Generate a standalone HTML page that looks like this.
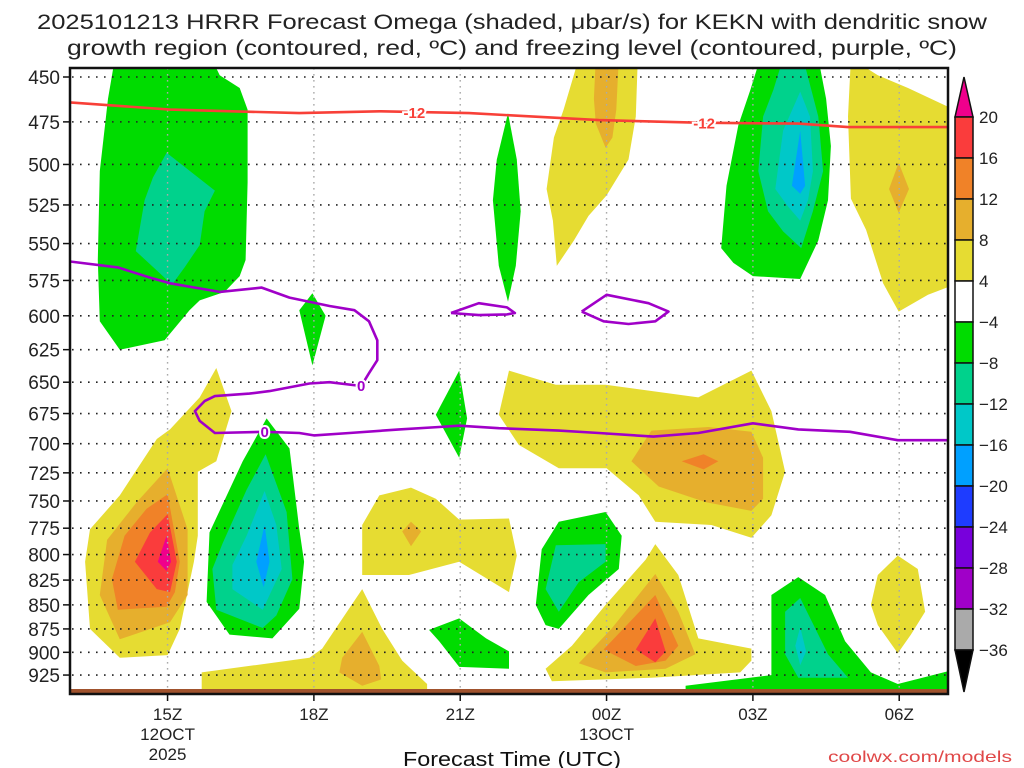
<!DOCTYPE html>
<html><head><meta charset="utf-8"><title>HRRR Omega KEKN</title>
<style>
html,body{margin:0;padding:0;background:#fff;}
svg{display:block;font-family:"Liberation Sans",sans-serif;}
</style></head>
<body>
<svg id="chart" width="1024" height="768" viewBox="0 0 1024 768" xmlns="http://www.w3.org/2000/svg">
<defs><clipPath id="plotclip"><rect x="70" y="68" width="878" height="626"/></clipPath></defs>
<g fill="#222" font-size="21">
<text x="512" y="29" text-anchor="middle" textLength="950" lengthAdjust="spacingAndGlyphs">2025101213 HRRR Forecast Omega (shaded, μbar/s) for KEKN with dendritic snow</text>
<text x="512" y="55" text-anchor="middle" textLength="890" lengthAdjust="spacingAndGlyphs">growth region (contoured, red, ºC) and freezing level (contoured, purple, ºC)</text>
</g>
<g id="shading" clip-path="url(#plotclip)"></g>
<g id="grid"></g>
<g id="contours" clip-path="url(#plotclip)"></g>
<g id="axes"></g>
<g id="colorbar"></g>
<text x="512" y="766" text-anchor="middle" font-size="20" fill="#111" textLength="218" lengthAdjust="spacingAndGlyphs">Forecast Time (UTC)</text>
<text x="1012" y="762" text-anchor="end" font-size="16" fill="#e04848" textLength="184" lengthAdjust="spacingAndGlyphs">coolwx.com/models</text>
</svg>
<script>
// ---- data (hour since 00Z Oct 12, pressure hPa) ----
const pressureTicks = [450,475,500,525,550,575,600,625,650,675,700,725,750,775,800,825,850,875,900,925];
const timeTicks = [15,18,21,24,27,30];
const timeTickLabels = ["15Z","18Z","21Z","00Z","03Z","06Z"];
const dateLabels = [[15,"12OCT","2025"],[24,"13OCT",""]];
const colorbarLevels = ["20","16","12","8","4","\u22124","\u22128","\u221212","\u221216","\u221220","\u221224","\u221228","\u221232","\u221236"];

const greenUL = [[13.92,440],[15.9,440],[16.07,449],[16.48,456],[16.64,468],[16.64,511],[16.6,561],[16.48,572],[16.17,583],[15.66,589],[15.45,596],[14.94,618],[14.02,625],[13.61,604],[13.57,561],[13.61,504],[13.78,462]];
const tealUL = [[14.98,493],[15.97,516],[15.76,529],[15.66,551],[15.35,566],[15.09,578],[14.84,570],[14.35,555],[14.53,522],[14.7,508]];
const green18 = [[17.97,584],[18.24,600],[17.97,637],[17.7,596]];
const green22lens = [[21.98,470],[22.16,497],[22.24,529],[22.14,565],[21.98,590],[21.79,565],[21.67,522],[21.75,497]];
const yellowTopMid = [[23.43,440],[24.64,440],[24.6,472],[24.45,497],[24.0,519],[23.63,532],[23.33,548],[22.98,565],[22.9,535],[22.77,515],[22.92,484],[23.12,468]];
const orangeTopMid = [[23.78,440],[24.25,440],[24.2,468],[24.12,484],[23.98,490],[23.78,476],[23.74,462]];
const green03 = [[27.15,440],[28.34,440],[28.5,462],[28.6,489],[28.54,522],[28.34,548],[27.97,574],[27.0,572],[26.6,563],[26.35,553],[26.46,513],[26.7,477],[26.95,457]];
const teal03 = [[27.62,440],[28.03,440],[28.34,472],[28.44,504],[28.23,529],[27.99,553],[27.62,542],[27.31,529],[27.11,504],[27.21,472],[27.42,457]];
const cyan03 = [[27.97,458],[28.17,472],[28.23,504],[28.13,522],[27.97,535],[27.72,526],[27.46,515],[27.62,480]];
const blue03 = [[27.97,480],[28.07,513],[27.97,518],[27.8,513]];
const yellowUR = [[29.01,440],[29.56,449],[30.18,456],[31.2,469],[31.2,577],[30.59,585],[29.99,597],[29.67,577],[29.32,541],[29.01,521],[28.95,472]];
const orangeUR = [[29.99,499],[30.2,515],[29.99,530],[29.79,515]];
const yellowLL = [[16.0,639],[16.31,673],[16.0,715],[15.62,724],[15.62,782],[15.54,807],[15.25,875],[15.0,903],[14.02,906],[13.41,875],[13.31,807],[13.41,776],[14.02,745],[14.78,696],[15.05,688],[15.66,662]];
const orangeLL = [[15.0,721],[15.41,776],[15.41,840],[15.05,868],[14.02,886],[13.61,840],[13.76,786],[14.37,751]];
const orange2LL = [[15.0,744],[15.25,807],[15.15,837],[14.98,852],[13.98,855],[13.86,824],[14.12,782],[14.57,757]];
const redLL = [[15.0,762],[15.19,807],[15.05,837],[14.78,834],[14.33,807],[14.64,779]];
const magentaLL = [[14.98,782],[15.07,807],[14.98,816],[14.8,807]];
const green17 = [[17.03,679],[17.5,704],[17.7,776],[17.8,807],[17.7,854],[17.15,885],[16.27,881],[15.8,847],[15.86,779],[16.54,715]];
const teal17 = [[17.01,709],[17.44,760],[17.56,824],[17.23,861],[16.95,874],[16.0,855],[15.92,814],[16.13,789],[16.62,740]];
const cyan17 = [[16.99,741],[17.23,772],[17.34,814],[16.95,855],[16.33,834],[16.33,810],[16.62,782]];
const blue17 = [[16.99,772],[17.09,807],[16.97,832],[16.82,807]];
const yellow20 = [[18.99,820],[18.99,772],[19.34,745],[19.99,738],[20.5,748],[20.98,767],[22.0,766],[22.16,801],[22.0,837],[20.98,807],[19.95,820]];
const orange20 = [[19.99,769],[20.2,778],[19.99,792],[19.81,778]];
const yellowBot = [[15.7,922],[17.91,906],[18.17,896],[18.99,834],[19.4,875],[19.81,909],[20.32,935],[20.32,945],[15.7,945]];
const orangeBot = [[18.99,878],[19.34,915],[19.38,930],[18.99,937],[18.52,922],[18.58,906]];
const green21bot = [[20.36,876],[20.98,864],[21.53,885],[22.0,899],[22.0,918],[20.98,916],[20.57,888]];
const green21lens = [[20.98,641],[21.14,679],[20.98,712],[20.5,676]];
const yellowMid = [[22.0,641],[22.96,652],[23.98,652],[25.88,662],[26.97,641],[27.38,673],[27.66,724],[27.38,763],[26.97,784],[26.15,772],[25.0,769],[24.66,745],[24.0,721],[23.02,721],[22.2,701],[21.79,676]];
const orangeMid = [[24.51,715],[24.92,689],[26.09,686],[26.97,690],[27.21,712],[27.21,748],[26.97,759],[26.03,751],[25.07,737]];
const orange2Mid = [[25.54,715],[25.99,709],[26.29,715],[25.99,722]];
const green23 = [[22.55,850],[22.67,795],[23.02,769],[23.98,760],[24.31,782],[24.25,814],[23.63,840],[23.02,875],[22.75,871]];
const teal23 = [[22.75,834],[22.96,791],[23.98,790],[23.98,807],[23.43,827],[23.02,857]];
const yellow01 = [[25.0,790],[25.47,820],[25.88,885],[26.97,896],[26.97,909],[26.74,922],[24.92,928],[22.88,932],[22.75,918],[23.29,893],[23.98,850],[24.8,805]];
const orange01 = [[25.0,819],[25.47,857],[25.82,902],[25.21,918],[23.98,922],[23.43,912],[24.1,875]];
const orange2_01 = [[25.0,840],[25.47,893],[25.21,909],[24.6,915],[23.94,897]];
const red01 = [[25.0,864],[25.21,899],[25.0,911],[24.6,897]];
const greenBR = [[25.62,937],[27.38,925],[27.38,840],[27.93,822],[28.48,840],[28.89,888],[29.42,922],[29.97,935],[31.2,918],[31.2,945],[25.62,945]];
const tealBR = [[27.66,857],[27.97,843],[28.54,902],[28.95,928],[27.93,928],[27.66,902]];
const cyanBR = [[27.97,873],[28.09,899],[27.97,914],[27.87,893]];
const yellowR = [[29.97,801],[30.38,814],[30.53,857],[30.24,881],[29.97,901],[29.56,871],[29.42,850],[29.56,820]];

const freezingLevel = [[13.0,562],[13.98,566],[14.64,573],[15.05,577],[16.07,583],[16.93,580],[17.5,587],[18.32,593],[18.83,596],[19.13,604],[19.3,618],[19.3,633],[19.13,643],[18.97,653],[18.32,650],[17.91,651],[17.09,657],[16.68,659],[15.97,661],[15.76,665],[15.56,673],[15.66,681],[15.97,691],[16.99,690],[17.7,691],[18.0,693],[18.73,691],[19.75,688],[20.57,686],[20.98,685],[21.79,687],[23.02,689],[23.84,691],[24.96,694],[25.88,691],[27.0,683],[27.93,688],[28.99,690],[29.97,697],[31.0,697]];
const freezingLoop1 = [[20.81,598],[21.38,591],[21.96,594],[22.12,598],[21.96,599],[21.38,599.5],[20.81,598]];
const freezingLoop2 = [[23.49,597],[24.0,585],[24.86,591],[25.27,597],[25.0,604],[24.45,606],[23.94,604],[23.49,597]];
const dgzTop = [[13.0,464],[15.05,468],[17.7,470],[19.34,469],[21.18,470],[23.84,474],[25.88,475.5],[27.93,476],[28.95,478],[31.0,478]];
const freezingLabels = [[18.97,653],[16.99,690]];
const dgzLabels = [[20.06,470],[26.0,476]];

// ---- axes ----
const X0=70, X1=948, H0=13, H1=31;
function xOf(h){ return X0 + (h-H0)*(X1-X0)/(H1-H0); }
function yOf(p){ return 77 + 830*Math.log(p/450); }
const NS="http://www.w3.org/2000/svg";
function mk(tag, attrs, parent){ const e=document.createElementNS(NS,tag); for(const k in attrs) e.setAttribute(k,attrs[k]); parent.appendChild(e); return e; }
function pts(arr){ return arr.map(d=>xOf(d[0]).toFixed(1)+","+yOf(d[1]).toFixed(1)).join(" "); }

const C={yel:"#e6dc32",org1:"#e6af2d",org2:"#f08228",red:"#fa3c3c",mag:"#f0008c",grn:"#00dc00",teal:"#00d28c",cyan:"#00c8c8",blue:"#00a0ff"};
const layers = [
 [greenUL,"grn","shade-green-upper-left"],[tealUL,"teal","shade-teal-upper-left"],
 [green18,"grn","shade-green-18z"],[green22lens,"grn","shade-green-22z-upper"],
 [yellowTopMid,"yel","shade-yellow-upper-mid"],[orangeTopMid,"org1","shade-orange-upper-mid"],
 [green03,"grn","shade-green-03z"],[teal03,"teal","shade-teal-03z"],[cyan03,"cyan","shade-cyan-03z"],[blue03,"blue","shade-blue-03z"],
 [yellowUR,"yel","shade-yellow-upper-right"],[orangeUR,"org1","shade-orange-upper-right"],
 [yellowLL,"yel","shade-yellow-lower-left"],[orangeLL,"org1","shade-orange-lower-left"],[orange2LL,"org2","shade-orange2-lower-left"],[redLL,"red","shade-red-lower-left"],[magentaLL,"mag","shade-magenta-lower-left"],
 [green17,"grn","shade-green-17z"],[teal17,"teal","shade-teal-17z"],[cyan17,"cyan","shade-cyan-17z"],[blue17,"blue","shade-blue-17z"],
 [yellow20,"yel","shade-yellow-20z"],[orange20,"org1","shade-orange-20z"],
 [yellowBot,"yel","shade-yellow-bottom"],[orangeBot,"org1","shade-orange-bottom"],
 [green21bot,"grn","shade-green-21z-low"],[green21lens,"grn","shade-green-21z-mid"],
 [yellowMid,"yel","shade-yellow-mid"],[orangeMid,"org1","shade-orange-mid"],[orange2Mid,"org2","shade-orange2-mid"],
 [green23,"grn","shade-green-23z"],[teal23,"teal","shade-teal-23z"],
 [yellow01,"yel","shade-yellow-01z"],[orange01,"org1","shade-orange-01z"],[orange2_01,"org2","shade-orange2-01z"],[red01,"red","shade-red-01z"],
 [greenBR,"grn","shade-green-bottom-right"],[tealBR,"teal","shade-teal-bottom-right"],[cyanBR,"cyan","shade-cyan-bottom-right"],
 [yellowR,"yel","shade-yellow-06z"]
];
const shading=document.getElementById("shading");
layers.forEach(L=>{
  const el=mk("polygon",{points:pts(L[0]),fill:C[L[1]]},shading);
  
  
});
const ground=mk("rect",{x:70,y:689,width:878,height:5,fill:"#a0522d"},shading);



// grid
const grid=document.getElementById("grid");
pressureTicks.forEach(p=>{
  const y=yOf(p);
  const l=mk("line",{x1:72,x2:948,y1:y,y2:y,stroke:"#222","stroke-width":1.6,"stroke-dasharray":"1.6 6.4"},grid);
  
  
});
timeTicks.forEach(h=>{
  const x=xOf(h);
  const l=mk("line",{x1:x,x2:x,y1:68,y2:689,stroke:"#aaa","stroke-width":1.4,"stroke-dasharray":"1.6 4.4"},grid);
  
  
});

// contours
const cg=document.getElementById("contours");
function line(arr,color,name){
  const e=mk("polyline",{points:pts(arr),fill:"none",stroke:color,"stroke-width":2.6,"stroke-linejoin":"round"},cg);
  
  
}
line(dgzTop,"#f84038","dgz-minus12-contour");
line(freezingLevel,"#a000c8","freezing-level-contour");
line(freezingLoop1,"#a000c8","freezing-level-loop-21z");
line(freezingLoop2,"#a000c8","freezing-level-loop-00z");
function clabel(d,txt,color,name){
  const t=mk("text",{x:xOf(d[0]),y:yOf(d[1])+5,"text-anchor":"middle","font-size":15,"font-weight":"bold",fill:color,stroke:"#fff","stroke-width":4,"paint-order":"stroke"},cg);
  t.textContent=txt;
  
  
}
freezingLabels.forEach(d=>clabel(d,"0","#a000c8","freezing-level-label"));
dgzLabels.forEach(d=>clabel(d,"-12","#f84038","dgz-label"));

// axes
const ax=document.getElementById("axes");
const frame=mk("rect",{x:70,y:68,width:878,height:626,fill:"none",stroke:"#111","stroke-width":2.5},ax);


pressureTicks.forEach(p=>{
  const y=yOf(p);
  mk("line",{x1:63,x2:70,y1:y,y2:y,stroke:"#111","stroke-width":1.5},ax);
  const t=mk("text",{x:60,y:y+7,"text-anchor":"end","font-size":19,fill:"#222"},ax);
  t.textContent=String(p);
  
  
});
timeTicks.forEach((h,i)=>{
  const x=xOf(h);
  mk("line",{x1:x,x2:x,y1:694,y2:701,stroke:"#111","stroke-width":1.5},ax);
  const t=mk("text",{x:x,y:720,"text-anchor":"middle","font-size":17,fill:"#222"},ax);
  t.textContent=timeTickLabels[i];
  
  
});
dateLabels.forEach(d=>{
  const x=xOf(d[0]);
  const a=mk("text",{x:x,y:740,"text-anchor":"middle","font-size":17,fill:"#222"},ax);
  a.textContent=d[1];
  
  
  if(d[2]){
    const b=mk("text",{x:x,y:760,"text-anchor":"middle","font-size":17,fill:"#222"},ax);
    b.textContent=d[2];
    
    
  }
});

// colorbar
const cb=document.getElementById("colorbar");
const cbColors=["#fa3c3c","#f08228","#e6af2d","#e6dc32","#ffffff","#00dc00","#00d28c","#00c8c8","#00a0ff","#1e3cff","#7800dc","#a000c8","#aaaaaa"];
const cbTop=117, cbStep=41, cbX=955, cbW=18;
const tri1=mk("polygon",{points:`${cbX},${cbTop} ${cbX+cbW},${cbTop} ${cbX+cbW/2},77`,fill:"#f0008c",stroke:"#111","stroke-width":1.5},cb);


cbColors.forEach((c,i)=>{
  const r=mk("rect",{x:cbX,y:cbTop+i*cbStep,width:cbW,height:cbStep,fill:c,stroke:"#111","stroke-width":1.5},cb);
  
  
});
const bot=cbTop+cbColors.length*cbStep;
const tri2=mk("polygon",{points:`${cbX},${bot} ${cbX+cbW},${bot} ${cbX+cbW/2},692`,fill:"#000",stroke:"#111","stroke-width":1.5},cb);


colorbarLevels.forEach((s,i)=>{
  const t=mk("text",{x:979,y:cbTop+i*cbStep+6,"font-size":17,fill:"#222"},cb);
  t.textContent=s;
  
  
});
</script>
</body></html>
